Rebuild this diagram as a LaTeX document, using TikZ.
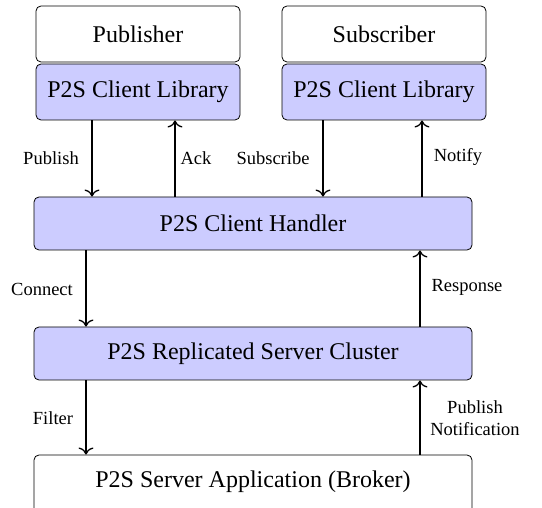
\documentclass[tikz,border=0pt]{standalone}
\usepackage{fontspec}
\setmainfont{Liberation Serif}
\usetikzlibrary{arrows.meta}
\begin{document}
\begin{tikzpicture}[x=1pt,y=-1pt,
  box/.style={draw, rounded corners=5pt, line width=0.8pt, minimum width=204pt, minimum height=56pt, inner sep=0pt, font=\fontsize{24}{28}\selectfont},
  wide/.style={box, minimum width=438pt, minimum height=53pt},
  lib/.style={fill=blue!20},
  flow/.style={-{To[scale=1.6]}, line width=1.3pt},
  lbl/.style={font=\fontsize{18.5}{22}\selectfont, inner sep=0pt, align=center}]
\useasboundingbox (0,0) rectangle (542,508);
\node[box] (pub) at (138,34) {Publisher};
\node[box,lib] (libl) at (138,92) {P2S Client Library};
\node[box] (sub) at (384,34) {Subscriber};
\node[box,lib] (libr) at (384,92) {P2S Client Library};
\node[wide,lib] (hand) at (253,223.5) {P2S Client Handler};
\node[wide,lib] (clus) at (253,353.5) {P2S Replicated Server Cluster};
\node[wide, minimum height=60pt] (brok) at (253,485) {};
\node[font=\fontsize{24}{28}\selectfont] (brokt) at (253,482) {P2S Server Application (Broker)};
\draw[flow] ([xshift=-46pt]libl.south) -- ([xshift=-46pt]libl.south |- hand.north);
\draw[flow] ([xshift=37pt]libl.south |- hand.north) -- ([xshift=37pt]libl.south);
\draw[flow] ([xshift=-61pt]libr.south) -- ([xshift=-61pt]libr.south |- hand.north);
\draw[flow] ([xshift=38pt]libr.south |- hand.north) -- ([xshift=38pt]libr.south);
\draw[flow] ([xshift=-167pt]hand.south) -- ([xshift=-167pt]hand.south |- clus.north);
\draw[flow] ([xshift=167pt]hand.south |- clus.north) -- ([xshift=167pt]hand.south);
\draw[flow] ([xshift=-167pt]clus.south) -- ([xshift=-167pt]clus.south |- brok.north);
\draw[flow] ([xshift=167pt]clus.south |- brok.north) -- ([xshift=167pt]clus.south);
\node[lbl] (l1) at (51,158) {Publish};
\node[lbl] (l2) at (196,158) {Ack};
\node[lbl] (l3) at (273,158) {Subscribe};
\node[lbl] (l4) at (458,157) {Notify};
\node[lbl] (l5) at (42,289) {Connect};
\node[lbl] (l6) at (467,287) {Response};
\node[lbl] (l7) at (53,418) {Filter};
\node[lbl] (l8) at (475,418) {Publish\\Notification};
\end{tikzpicture}
\end{document}
